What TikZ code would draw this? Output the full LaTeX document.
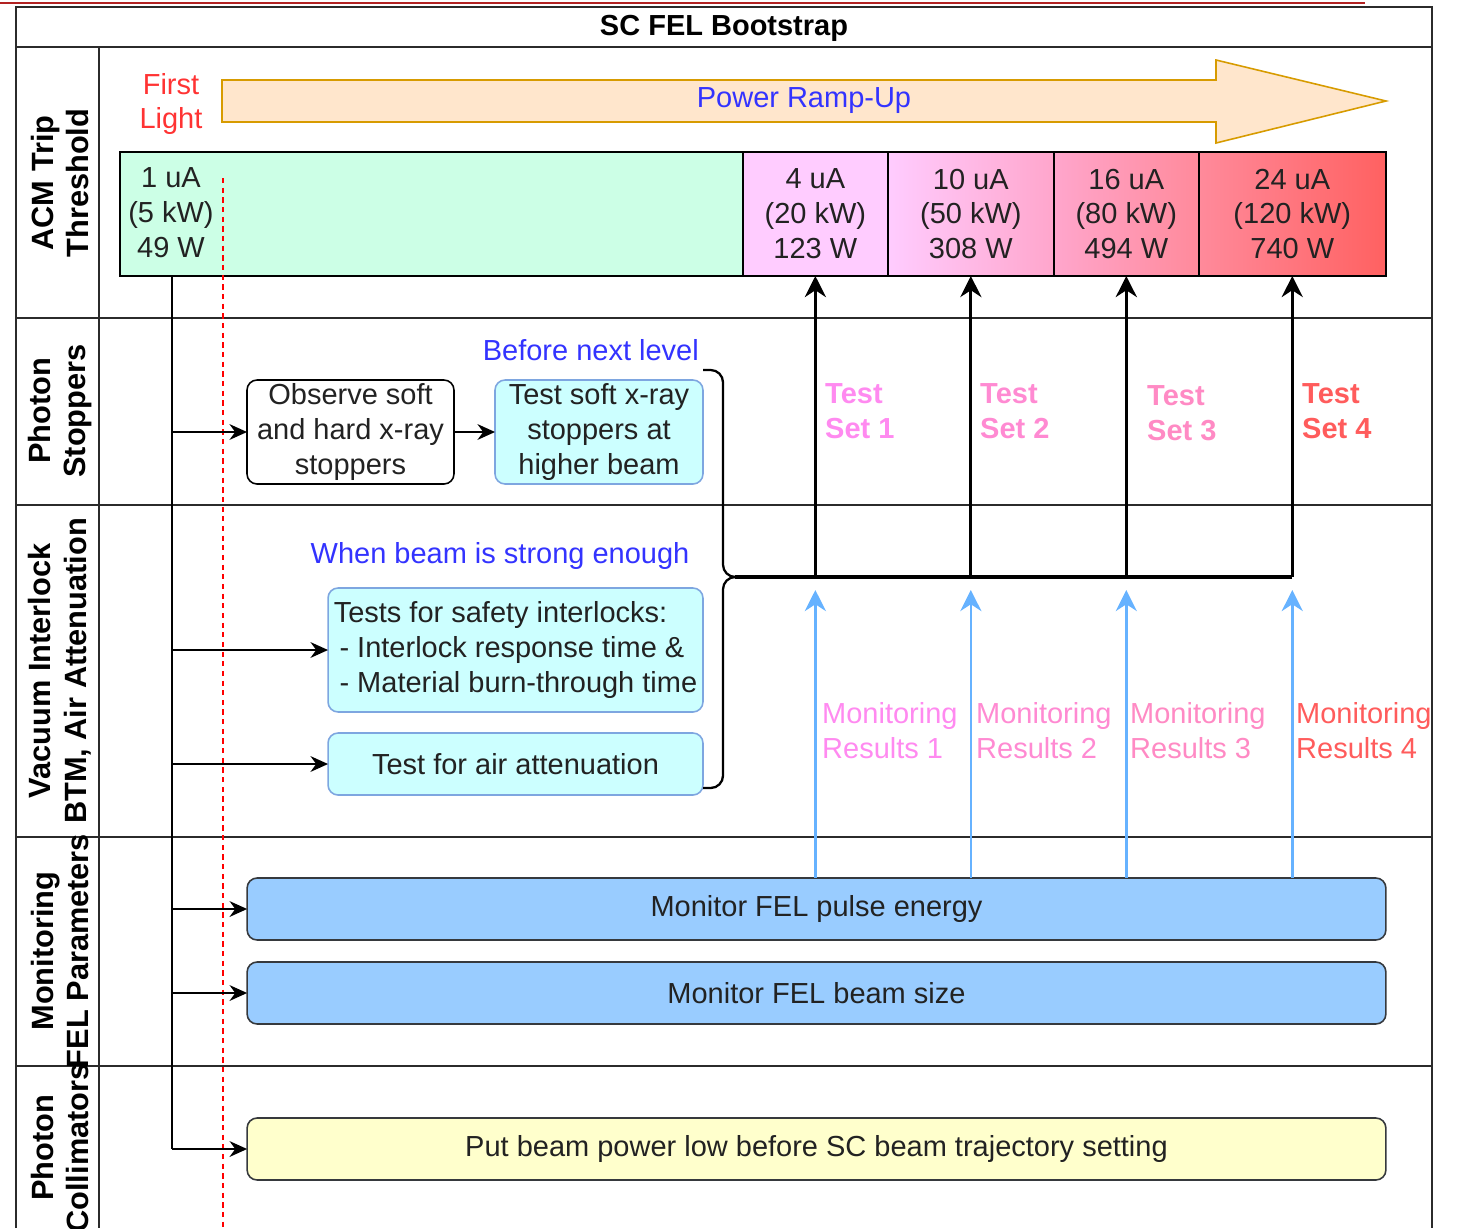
\documentclass[tikz,border=0pt]{standalone}
\usepackage{fontspec}
\setmainfont{Liberation Sans}
\usetikzlibrary{positioning,arrows.meta}

\definecolor{lanegray}{HTML}{2B2B2B}
\definecolor{topred}{HTML}{B22222}
\definecolor{mint}{HTML}{CCFFE6}
\definecolor{lilac}{HTML}{FFCCFF}
\definecolor{rose}{HTML}{FFA6CC}
\definecolor{salmon}{HTML}{FF8A9B}
\definecolor{alarm}{HTML}{FF6161}
\definecolor{peach}{HTML}{FFE6CC}
\definecolor{amber}{HTML}{D79B00}
\definecolor{aqua}{HTML}{CCFFFF}
\definecolor{aquaedge}{HTML}{7EA6E0}
\definecolor{sky}{HTML}{99CCFF}
\definecolor{boxedge}{HTML}{36393D}
\definecolor{cream}{HTML}{FFFFCC}
\definecolor{notes}{HTML}{3333FF}
\definecolor{firstred}{HTML}{FF3333}
\definecolor{arrowblue}{HTML}{66B2FF}
\definecolor{setone}{HTML}{FF8AF0}
\definecolor{settwo}{HTML}{FF8AD2}
\definecolor{setthree}{HTML}{FF8AC4}
\definecolor{setfour}{HTML}{FF5C5C}
\definecolor{textgray}{HTML}{222222}

\tikzset{
  every node/.style={font=\fontsize{16.5}{19.9}\selectfont, text=textgray},
  lane/.style={draw=lanegray, line width=1.1pt},
  lanehead/.style={rotate=90, align=center, text=black,
    font=\bfseries\fontsize{17.5}{20.4}\selectfont},
  level/.style={draw=black, line width=0.9pt, minimum height=2.48cm,
    inner sep=0pt, outer sep=0pt, align=center},
  taskbox/.style={draw=black, line width=0.9pt, rounded corners=0.2cm,
    align=center, inner sep=0pt, outer sep=0pt},
  testbox/.style={taskbox, draw=aquaedge, fill=aqua},
  monbox/.style={taskbox, draw=boxedge, fill=sky, minimum width=22.78cm, minimum height=1.24cm},
  notelabel/.style={text=notes},
  setlabel/.style={anchor=west, align=left, font=\bfseries\fontsize{16.5}{19.9}\selectfont},
  reslabel/.style={anchor=west, align=left},
  flow/.style={draw=black, line width=0.9pt, -{Stealth[length=10pt,width=9pt]}},
  trunkline/.style={draw=black, line width=0.9pt},
  bus/.style={draw=black, line width=1.8pt},
  testarrow/.style={draw=black, line width=1.8pt, -{Stealth[length=12pt,width=12pt]}},
  monarrow/.style={draw=arrowblue, line width=1.4pt, -{Stealth[length=12pt,width=12pt]}},
  reddash/.style={draw=red, line width=0.8pt, dash pattern=on 3pt off 2.5pt},
}

\begin{document}
\begin{tikzpicture}[x=0.02cm, y=-0.02cm]
\useasboundingbox (0,0) rectangle (1457,1228);

% pool and lanes
\draw[topred, line width=0.8pt] (0,3) -- (1365,3);
\draw[lane] (16,1228) -- (16,7) -- (1432,7) -- (1432,1228);
\draw[lane] (16,47) -- (1432,47);
\draw[lane] (99,47) -- (99,1228);
\foreach \y in {318,505,837,1066}
  \draw[lane] (16,\y) -- (1432,\y);
\node[font=\bfseries\fontsize{16.5}{19.9}\selectfont, text=black] (title) at (724,28) {SC FEL Bootstrap};

\node[lanehead] (acm) at (60,183) {ACM Trip\\Threshold};
\node[lanehead] (stoppers) at (60,411) {Photon\\Stoppers};
\node[lanehead] (vacuum) at (60,671) {Vacuum Interlock\\BTM, Air Attenuation};
\node[lanehead] (felpar) at (60,951) {Monitoring\\FEL Parameters};
\node[lanehead] (collim) at (60,1148) {Photon\\Collimators};

% power ramp
\draw[draw=amber, fill=peach, line width=0.9pt]
  (222,80) -- (1216,80) -- (1216,60) -- (1386,101) -- (1216,143) -- (1216,122) -- (222,122) -- cycle;
\node[notelabel] (ramp) at (804,101) {Power Ramp-Up};
\node[text=firstred, align=center] (first) at (171,104) {First\\Light};

% threshold levels
\node[level, fill=mint, minimum width=12.46cm, anchor=west] (b1) at (120,214) {};
\node[level, fill=lilac, minimum width=2.9cm, right=0pt of b1] (b2) {4 uA\\(20 kW)\\123 W};
\node[level, left color=lilac, right color=rose, minimum width=3.32cm, right=0pt of b2] (b3) {10 uA\\(50 kW)\\308 W};
\node[level, left color=rose, right color=salmon, minimum width=2.9cm, right=0pt of b3] (b4) {16 uA\\(80 kW)\\494 W};
\node[level, left color=salmon, right color=alarm, minimum width=3.74cm, right=0pt of b4] (b5) {24 uA\\(120 kW)\\740 W};
\node[align=center] (b1text) at (171,213) {1 uA\\(5 kW)\\49 W};

\draw[reddash] (223,178) -- (223,1228);

% tasks
\node[taskbox, fill=white, minimum width=4.14cm, minimum height=2.08cm] (observe) at (350.5,432) {Observe soft\\and hard x-ray\\stoppers};
\node[testbox, minimum width=4.16cm, minimum height=2.08cm] (softtest) at (599,432) {Test soft x-ray\\stoppers at\\higher beam};
\node[notelabel, anchor=east] (before) at (705,350) {Before next level};

\node[notelabel] (strong) at (500,556) {When beam is strong enough};
\node[testbox, minimum width=7.5cm, minimum height=2.48cm, align=left] (safety) at (515.5,650)
  {Tests for safety interlocks:\\\hspace*{0.2em}- Interlock response time \&\\\hspace*{0.2em}- Material burn-through time};
\node[testbox, minimum width=7.5cm, minimum height=1.24cm] (air) at (515.5,764) {Test for air attenuation};

\node[monbox] (pulse) at (816.5,909) {Monitor FEL pulse energy};
\node[monbox] (size) at (816.5,993) {Monitor FEL beam size};
\node[taskbox, draw=boxedge, fill=cream, minimum width=22.78cm, minimum height=1.24cm] (put) at (816.5,1149)
  {Put beam power low before SC beam trajectory setting};

% trunk from first light
\coordinate (trunk) at (172,276);
\draw[trunkline] (trunk) -- (trunk |- put.west);
\foreach \t in {observe,safety,air,pulse,size,put}
  \draw[flow] (trunk |- \t.west) -- (\t.west);
\draw[flow] (observe) -- (softtest);

% brace and test sets
\coordinate (bracetip) at (735,577);
\coordinate (braceup) at (703,370);
\coordinate (bracedown) at (703,788);
\draw[black, line width=1.3pt, rounded corners=7] (braceup) -| (723,577) -- (bracetip);
\draw[black, line width=1.3pt, rounded corners=7] (bracedown) -| (723,577) -- (bracetip);
\draw[bus] (bracetip) -- (b5.south |- bracetip);
\foreach \b in {b2,b3,b4,b5}
  \draw[testarrow] (\b.south |- bracetip) -- (\b.south);

\coordinate (montop) at (735,590);
\foreach \b in {b2,b3,b4,b5}
  \draw[monarrow] (\b.south |- pulse.north) -- (\b.south |- montop);

\node[setlabel, text=setone] (set1) at (819,411) {Test\\Set 1};
\node[setlabel, text=settwo] (set2) at (974,411) {Test\\Set 2};
\node[setlabel, text=setthree] (set3) at (1141,413) {Test\\Set 3};
\node[setlabel, text=setfour] (set4) at (1296,411) {Test\\Set 4};

\node[reslabel, text=setone] (res1) at (816,731) {Monitoring\\Results 1};
\node[reslabel, text=settwo] (res2) at (970,731) {Monitoring\\Results 2};
\node[reslabel, text=setthree] (res3) at (1124,731) {Monitoring\\Results 3};
\node[reslabel, text=setfour] (res4) at (1290,731) {Monitoring\\Results 4};
\end{tikzpicture}
\end{document}
